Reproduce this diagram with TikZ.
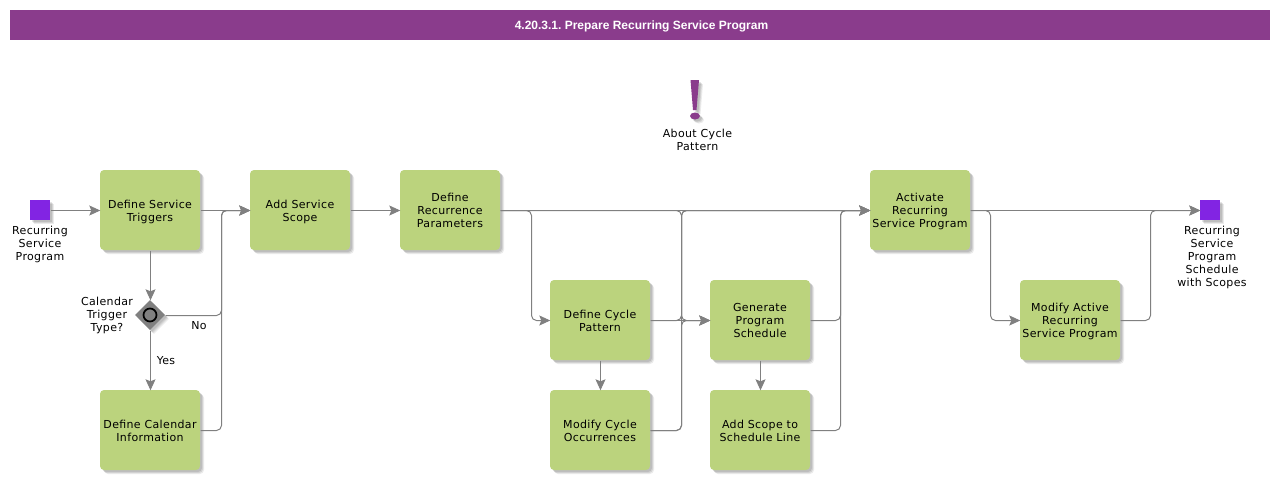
\documentclass[tikz,border=0pt]{standalone}
\usepackage{fontspec}
\setmainfont{DejaVu Sans}[LetterSpace=3.2]
\newfontfamily\titlefont{Liberation Sans}
\usetikzlibrary{arrows.meta,shadows,shapes.geometric,positioning}
\definecolor{boxgreen}{RGB}{187,211,125}
\definecolor{bandpurple}{RGB}{138,60,140}
\definecolor{evpurple}{RGB}{130,36,227}
\definecolor{linegray}{RGB}{128,128,128}
\newcommand{\ftop}{\rule{0pt}{12pt}}
\newcommand{\fbot}{\rule[-3pt]{0pt}{3pt}}
\tikzset{
 softshadow/.style={
   general shadow={shadow xshift=4pt,shadow yshift=-4pt,fill=black,opacity=.08},
   general shadow={shadow xshift=3pt,shadow yshift=-3pt,fill=black,opacity=.10},
   general shadow={shadow xshift=2pt,shadow yshift=-2pt,fill=black,opacity=.10}},
 taskbox/.style={draw=none,fill=boxgreen,rounded corners=4pt,minimum width=100pt,minimum height=80pt,inner sep=0pt,align=center,softshadow,font=\fontsize{11}{13}\selectfont},
 eventbox/.style={fill=evpurple,minimum width=20pt,minimum height=20pt,inner sep=0pt,softshadow},
 lbl/.style={align=center,inner sep=0pt,font=\fontsize{11}{13}\selectfont},
 conn/.style={draw=linegray,line width=1pt,rounded corners=5pt,transform canvas={xshift=.5pt,yshift=-.5pt}},
 flow/.style={conn,-{Stealth[length=11pt,width=10pt,inset=2pt,fill=linegray]}},
}
\begin{document}
\frenchspacing
\begin{tikzpicture}[x=1pt,y=-1pt]
\useasboundingbox (0,0) rectangle (1280,480);
\node[fill=bandpurple,minimum width=1260pt,minimum height=30pt,inner sep=0pt,text=white,font=\titlefont\bfseries\fontsize{12}{14}\selectfont,execute at begin node={\rule{0pt}{11pt}\hspace*{3pt}}] (title) at (640,25) {4.20.3.1. Prepare Recurring Service Program};

\coordinate (ja) at (221,210);
\coordinate (jb) at (531,210);
\coordinate (jc) at (681,210);
\coordinate (jcc) at (681,320);
\coordinate (jd) at (840,210);
\coordinate (jdd) at (840,320);
\coordinate (jddd) at (840,430);
\coordinate (je) at (990,210);
\coordinate (jf) at (1150,210);
\coordinate (jff) at (1150,320);
\coordinate (jee) at (990,320);
\coordinate (jbb) at (531,320);
\coordinate (jaa) at (221,315);
\coordinate (jaaa) at (221,430);
\coordinate (jccc) at (681,430);

\node[eventbox] (start) at (40,210) {};
\node[eventbox] (end) at (1210,210) {};
\node[taskbox] (trig) at (150,210) {\ftop Define Service\\\fbot Triggers};
\node[taskbox] (scope) at (300,210) {\ftop Add Service\\\fbot Scope};
\node[taskbox] (recur) at (450,210) {\ftop Define\\Recurrence\\\fbot Parameters};
\node[taskbox] (activate) at (920,210) {\ftop Activate\\Recurring\\\fbot Service Program};
\node[taskbox] (pattern) at (600,320) {\ftop Define Cycle\\\fbot Pattern};
\node[taskbox] (gen) at (760,320) {\ftop Generate\\Program\\\fbot Schedule};
\node[taskbox] (modact) at (1070,320) {\ftop Modify Active\\Recurring\\\fbot Service Program};
\node[taskbox] (cal) at (150,430) {\ftop Define Calendar\\\fbot Information};
\node[taskbox] (occ) at (600,430) {\ftop Modify Cycle\\\fbot Occurrences};
\node[taskbox] (line) at (760,430) {\ftop Add Scope to\\\fbot Schedule Line};

\node[diamond,fill=linegray,minimum width=30pt,minimum height=30pt,inner sep=0pt,softshadow] (gate) at (150,315) {};
\node[circle,draw=black,line width=1.7pt,minimum size=13pt,inner sep=0pt] (gatering) at (150,315) {};

\draw[flow] (start) -- (trig);
\draw[flow] (trig) -- (scope);
\draw[flow] (trig) -- (gate);
\draw[flow] (gate) -- (cal);
\draw[flow] (gate.east) -- (jaa) -- (ja) -- (scope.west);
\draw[flow] (cal.east) -- (jaaa) -- (ja) -- (scope.west);
\draw[flow] (scope) -- (recur);
\draw[flow] (recur) -- (activate);
\draw[flow] (recur.east) -- (jb) -- (jbb) -- (pattern.west);
\draw[flow] (pattern) -- (gen);
\draw[flow] (pattern) -- (occ);
\draw[flow] (gen) -- (line);
\draw[flow] (recur.east) -- (jc) -- (jcc) -- (gen.west);
\draw[flow] (pattern.east) -- (jcc) -- (jc) -- (activate.west);
\draw[flow] (occ.east) -- (jccc) -- (jc) -- (activate.west);
\draw[flow] (occ.east) -- (jccc) -- (jcc) -- (gen.west);
\draw[flow] (gen.east) -- (jdd) -- (jd) -- (activate.west);
\draw[flow] (line.east) -- (jddd) -- (jd) -- (activate.west);
\draw[flow] (activate) -- (end);
\draw[flow] (activate.east) -- (je) -- (jee) -- (modact.west);
\draw[flow] (modact.east) -- (jff) -- (jf) -- (end.west);

\node[lbl] (lstart) at (40,243) {\ftop Recurring\\Service\\\fbot Program};
\node[lbl] (lgate) at (107,314) {\ftop Calendar\\Trigger\\\fbot Type?};
\node[lbl] (lno) at (199,325) {\ftop No\fbot};
\node[lbl] (lyes) at (166,360) {\ftop Yes\fbot};
\node[lbl] (lend) at (1212,255.5) {\ftop Recurring\\Service\\Program\\Schedule\\\fbot with Scopes};
\node[lbl] (labout) at (697.5,139.5) {\ftop About Cycle\\\fbot Pattern};

\foreach \d/\o in {4/.08,3/.1,2/.1}{
\begin{scope}[shift={(\d,\d)}]
\fill[black,opacity=\o] (690.5,80) -- (699,80) -- (696.5,110) -- (693,110) -- cycle;
\fill[black,opacity=\o] (695,116) ellipse [x radius=5,y radius=3.5];
\end{scope}}
\fill[bandpurple] (690.5,80) -- (699,80) -- (696.5,110) -- (693,110) -- cycle;
\fill[bandpurple] (695,116) ellipse [x radius=5,y radius=3.5];
\end{tikzpicture}
\end{document}
